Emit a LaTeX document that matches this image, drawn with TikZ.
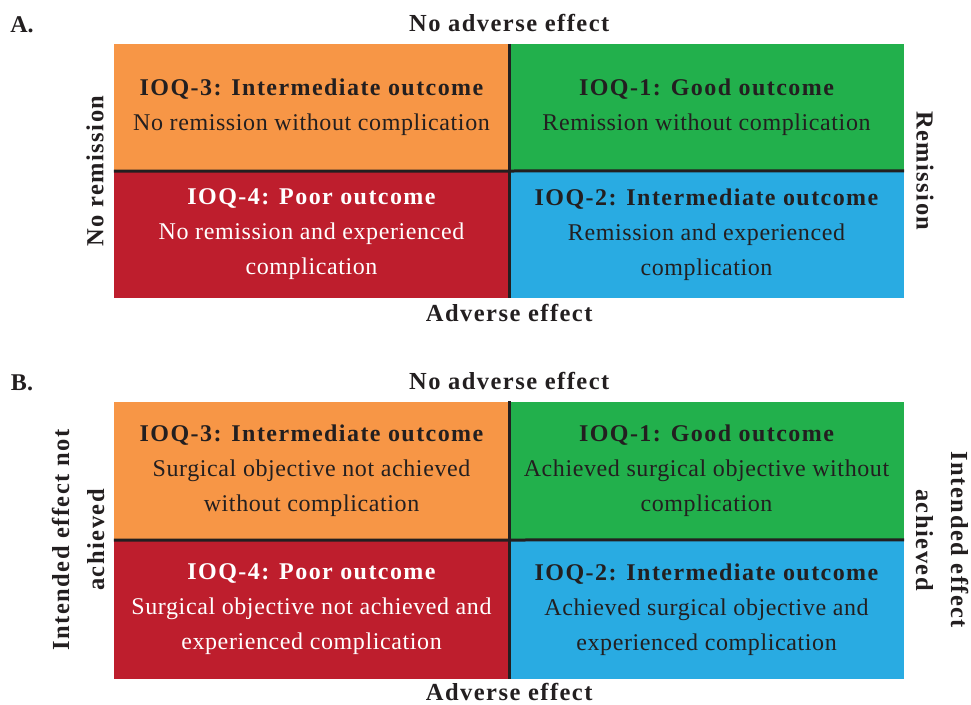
\documentclass[tikz,border=0pt]{standalone}
\usepackage{fontspec}
\setmainfont{Liberation Serif}
\usetikzlibrary{calc,positioning}
\definecolor{ioqOrange}{HTML}{F79646}
\definecolor{ioqGreen}{HTML}{22B04C}
\definecolor{ioqRed}{HTML}{BE1E2D}
\definecolor{ioqBlue}{HTML}{29ABE2}
\definecolor{ioqInk}{HTML}{231F20}
\newcommand{\wideBold}{\bfseries\addfontfeature{LetterSpace=6}}
\tikzset{
	cell/.style={minimum width=395pt, inner sep=0pt, align=center, text=ioqInk,
		font=\fontsize{24}{35}\selectfont\addfontfeature{LetterSpace=2.5}},
	cellA/.style={cell, minimum height=127pt},
	cellB/.style={cell, minimum height=138.5pt},
	divider/.style={draw=ioqInk, line width=3pt},
	axislabel/.style={font=\fontsize{24.5}{35}\selectfont\wideBold, text=ioqInk, align=center, inner sep=0pt},
	panellabel/.style={font=\fontsize{24}{26}\bfseries, text=ioqInk, inner sep=0pt}
}
\newcommand{\quadText}[2]{{\wideBold #1}\\#2}

\begin{document}
\begin{tikzpicture}[x=1pt, y=-1pt]
		\useasboundingbox (0,0) rectangle (971,704);

		% panel A
		\node[panellabel] (labA) at (22,25) {A.};
		\node[cellA, fill=ioqOrange] (qA3) at (311.5,107.5) {\quadText{IOQ-3: Intermediate outcome}{No remission without complication}};
		\node[cellA, fill=ioqGreen] (qA1) at (706.5,107.5) {\quadText{IOQ-1: Good outcome}{Remission without complication}};
		\node[cellA, fill=ioqRed, text=white] (qA4) at (311.5,234.5) {\quadText{IOQ-4: Poor outcome}{No remission and experienced\\complication}};
		\node[cellA, fill=ioqBlue] (qA2) at (706.5,234.5) {\quadText{IOQ-2: Intermediate outcome}{Remission and experienced\\complication}};
		\draw[divider] (qA3.north east) -- (qA4.south east);
		\draw[divider] (qA3.south west) -- (qA2.north east);
		\node[axislabel, above=12pt of qA3.north east] (topA) {No adverse effect};
		\node[axislabel, below=6pt of qA4.south east] (botA) {Adverse effect};
		\node[axislabel, rotate=90] (leftA) at (95,171) {No remission};
		\node[axislabel, rotate=-90] (rightA) at (925,171) {Remission};

		% panel B
		\node[panellabel] (labB) at (22,383) {B.};
		\node[cellB, fill=ioqOrange] (qB3) at (311.5,470.75) {\quadText{IOQ-3: Intermediate outcome}{Surgical objective not achieved\\without complication}};
		\node[cellB, fill=ioqGreen] (qB1) at (706.5,470.75) {\quadText{IOQ-1: Good outcome}{Achieved surgical objective without\\complication}};
		\node[cellB, fill=ioqRed, text=white] (qB4) at (311.5,609.25) {\quadText{IOQ-4: Poor outcome}{Surgical objective not achieved and\\experienced complication}};
		\node[cellB, fill=ioqBlue] (qB2) at (706.5,609.25) {\quadText{IOQ-2: Intermediate outcome}{Achieved surgical objective and\\experienced complication}};
		\draw[divider] (qB3.north east) -- (qB4.south east);
		\draw[divider] (qB3.south west) -- (qB2.north east);
		\node[axislabel, above=11pt of qB3.north east] (topB) {No adverse effect};
		\node[axislabel, below=4pt of qB4.south east] (botB) {Adverse effect};
		\node[axislabel, rotate=90] (leftB) at (78,540) {Intended effect not\\achieved};
		\node[axislabel, rotate=-90] (rightB) at (942,540) {Intended effect\\achieved};
	\end{tikzpicture}
\end{document}
